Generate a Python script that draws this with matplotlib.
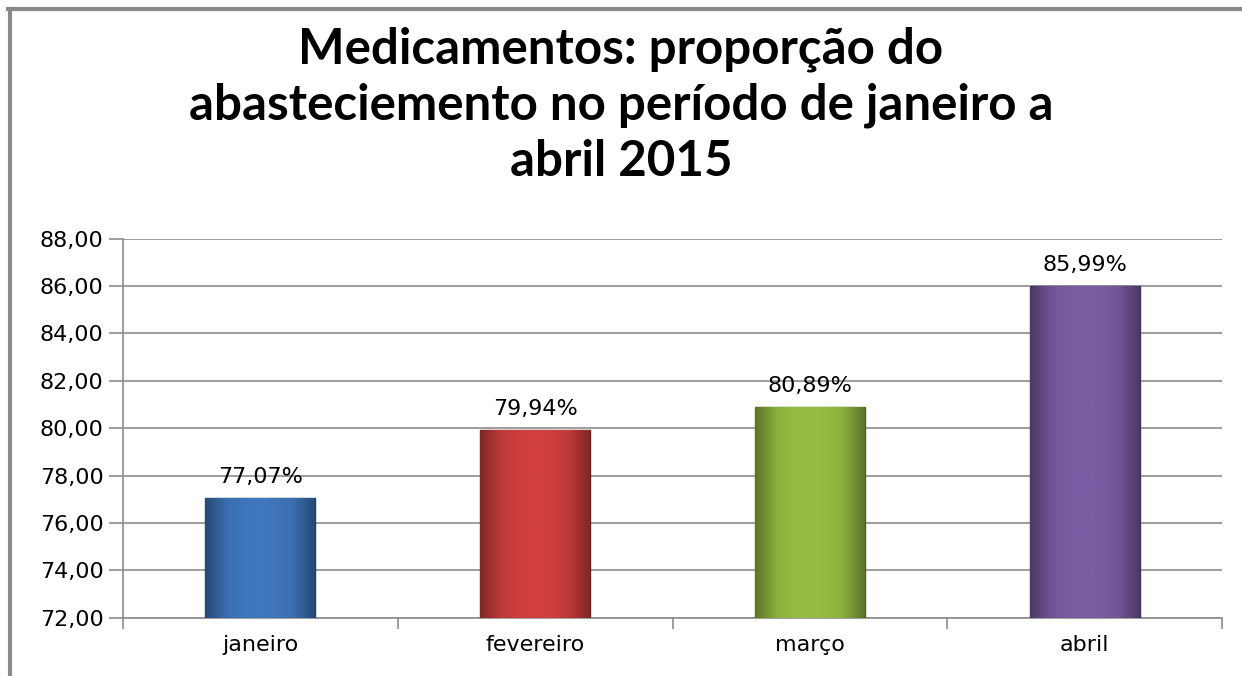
"""Medicamentos: proporcao do abastecimento, jan-abr 2015."""

import numpy as np
import matplotlib
matplotlib.use("Agg")
import matplotlib.pyplot as plt
from matplotlib.colors import LinearSegmentedColormap
from matplotlib.lines import Line2D

meses = ["janeiro", "fevereiro", "março", "abril"]
valores = [77.07, 79.94, 80.89, 85.99]
cores = ["#3f77bd", "#cf3f3c", "#96bd42", "#7b5ca3"]
yticks = [72, 74, 76, 78, 80, 82, 84, 86, 88]


def _shade(hex_color, f):
    c = np.array(matplotlib.colors.to_rgb(hex_color))
    return tuple(np.clip(c * f, 0, 1))


fig = plt.figure(figsize=(12.42, 6.76), dpi=100)
ax = fig.add_axes([0.099, 0.086, 0.885, 0.561])

xs = np.arange(len(meses))
bars = ax.bar(xs, [v - 72 for v in valores], bottom=72, width=0.4,
              color=cores, zorder=3, edgecolor="none")

# gradient fill on each bar (darker edges, lighter middle)
for b, c in zip(bars, cores):
    x0, y0 = b.get_x(), b.get_y()
    w, h = b.get_width(), b.get_height()
    cmap = LinearSegmentedColormap.from_list(
        "g", [_shade(c, 0.62), _shade(c, 0.93), _shade(c, 1.0), _shade(c, 1.0),
              _shade(c, 0.93), _shade(c, 0.62)])
    grad = np.linspace(0, 1, 200).reshape(1, -1)
    im = ax.imshow(grad, cmap=cmap, aspect="auto", zorder=3,
                   extent=(x0, x0 + w, y0, y0 + h), interpolation="bicubic")
    im.set_clip_path(b)
    b.set_facecolor("none")
    b.set_edgecolor(_shade(c, 0.5))
    b.set_linewidth(1.0)

for x, v in zip(xs, valores):
    ax.annotate(f"{v:.2f}%".replace(".", ","), (x, v), xytext=(0, 8),
                textcoords="offset points", ha="center", va="bottom",
                fontsize=16, family="DejaVu Sans", zorder=4)

ax.set_xlim(-0.5, len(meses) - 0.5)
ax.set_ylim(72, 88)
ax.set_yticks(yticks)
ax.set_yticklabels([f"{t:.2f}".replace(".", ",") for t in yticks],
                   fontsize=16, family="DejaVu Sans")
ax.yaxis.grid(True, color="#8c8c8c", lw=1.2, zorder=0)
ax.tick_params(axis="y", length=10, width=1.2, color="#8c8c8c", pad=4)

ax.set_xticks(xs)
ax.set_xticklabels(meses, fontsize=16, family="DejaVu Sans")
ax.set_xticks(np.arange(-0.5, len(meses)), minor=True)
ax.tick_params(axis="x", which="major", length=0, pad=12)
ax.tick_params(axis="x", which="minor", length=8, width=1.2, color="#8c8c8c")

for s in ["top", "right"]:
    ax.spines[s].set_visible(False)
for s in ["left", "bottom"]:
    ax.spines[s].set_color("#8c8c8c")
    ax.spines[s].set_linewidth(1.2)

fig.text(0.5, 1 - 26 / 676,
         "Medicamentos: proporção do\nabasteciemento no período de janeiro a\nabril 2015",
         ha="center", va="top", fontsize=35.5, fontweight="bold", family="Lato",
         linespacing=1.3)

# chart-area frame (top and left edges visible)
fig.add_artist(Line2D([8 / 1242, 1], [1 - 9 / 676, 1 - 9 / 676],
                      transform=fig.transFigure, color="#8a8a8a", lw=3))
fig.add_artist(Line2D([10 / 1242, 10 / 1242], [0, 1 - 9 / 676],
                      transform=fig.transFigure, color="#8a8a8a", lw=3))

fig.savefig("out.png", dpi=100)
